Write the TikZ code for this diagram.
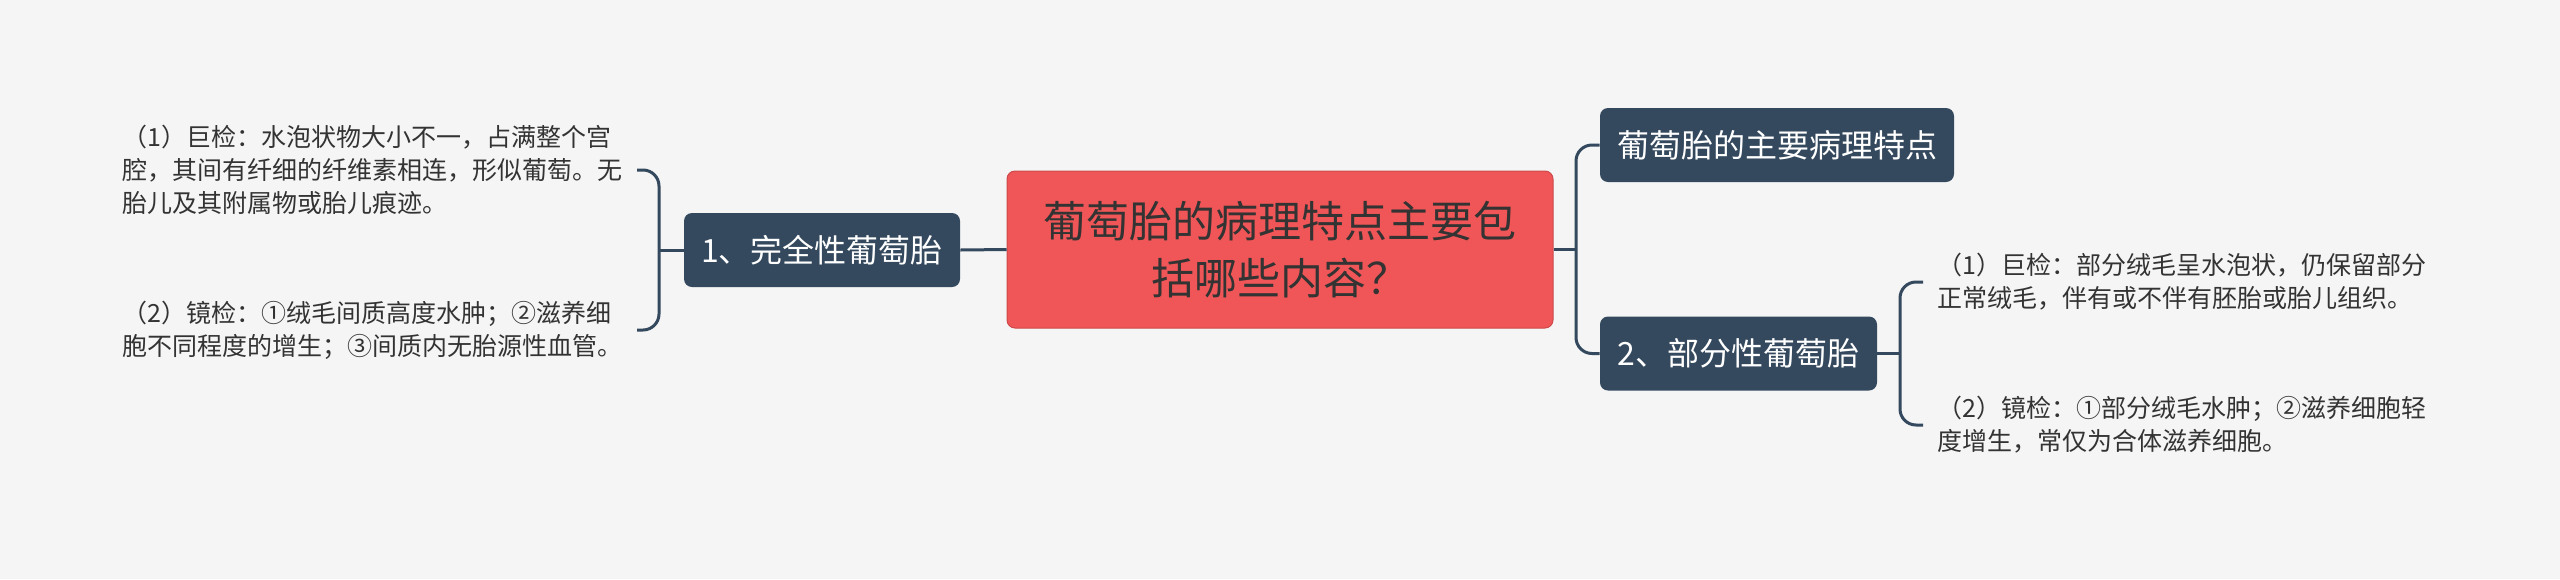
\documentclass[tikz,border=0pt]{standalone}
\usepackage{fontspec}
\setmainfont{Noto Sans CJK SC}
\definecolor{bgcol}{HTML}{F5F5F5}
\definecolor{rootcol}{HTML}{F05657}
\definecolor{branchcol}{HTML}{34495E}
\definecolor{txtcol}{HTML}{333333}
\begin{document}
\begin{tikzpicture}[x=0.5pt,y=-0.5pt,
  branch/.style={fill=branchcol, text=white, rounded corners=4pt, inner sep=0pt,
    minimum height=37pt, font=\fontsize{16pt}{19pt}\selectfont},
  leaf/.style={text=txtcol, text width=250pt, align=left, inner xsep=7pt, inner ysep=0pt,
    font=\fontsize{12.5pt}{16.5pt}\selectfont},
  link/.style={draw=branchcol, line width=1.5pt, rounded corners=8pt}]
\fill[bgcol] (0,0) rectangle (2560,579);
\useasboundingbox (0,0) rectangle (2560,579);

% centre
\node[fill=rootcol, draw=rootcol!85!black, line width=0.5pt, rounded corners=4pt,
  text=txtcol, align=center, minimum width=273pt, minimum height=78.5pt,
  font=\fontsize{21.5pt}{28.5pt}\selectfont] (root) at (1280,249.5)
  {葡萄胎的病理特点主要包\\括哪些内容？};

% branches
\node[branch, minimum width=138pt] (c1) at (822,250) {1、完全性葡萄胎};
\node[branch, minimum width=177pt] (c2) at (1777,145) {葡萄胎的主要病理特点};
\node[branch, minimum width=138.5pt] (c3) at (1738.5,353.5) {2、部分性葡萄胎};

% leaves
\node[leaf, anchor=east] (lA) at (637,170)
  {（1）巨检：水泡状物大小不一，占满整个宫\\腔，其间有纤细的纤维素相连，形似葡萄。无\\胎儿及其附属物或胎儿痕迹。};
\node[leaf, anchor=east] (lB) at (637,330)
  {（2）镜检：①绒毛间质高度水肿；②滋养细\\胞不同程度的增生；③间质内无胎源性血管。};
\node[leaf, anchor=west] (rA) at (1923,282)
  {（1）巨检：部分绒毛呈水泡状，仍保留部分\\正常绒毛，伴有或不伴有胚胎或胎儿组织。};
\node[leaf, anchor=west] (rB) at (1923,425)
  {（2）镜检：①部分绒毛水肿；②滋养细胞轻\\度增生，常仅为合体滋养细胞。};

\coordinate (jL) at (659,250);
\coordinate (jR) at (1576,249.5);
\coordinate (jS) at (1900,353.5);

% links
\draw[link] (root.west) -- (c1.east);
\draw[link] (c1.west) -- (jL);
\draw[link] (lA.east) -| (jL) |- (lB.east);
\draw[link] (root.east) -- (jR);
\draw[link] (c2.west) -| (jR) |- (c3.west);
\draw[link] (c3.east) -- (jS);
\draw[link] (rA.west) -| (jS) |- (rB.west);
\end{tikzpicture}
\end{document}
